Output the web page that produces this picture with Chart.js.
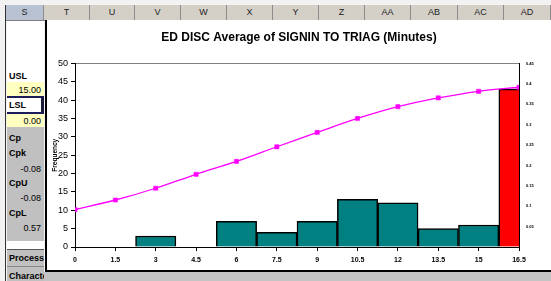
<!DOCTYPE html>
<html>
<head>
<meta charset="utf-8">
<script src="https://cdn.jsdelivr.net/npm/chart.js@4.4.1/dist/chart.umd.min.js"></script>
<style>
html,body{margin:0;padding:0;}
body{width:551px;height:281px;overflow:hidden;position:relative;background:#f2f2f2;font-family:Arial,"Liberation Sans",sans-serif;}
.hdr{position:absolute;top:5px;height:16px;background:#d4d0c8;border-right:1px solid #8c8c8c;border-bottom:1px solid #808080;box-sizing:border-box;font-size:9px;line-height:15px;text-align:center;color:#222;}
.hdr.sel{background:#b9c2d3;}
.cell{position:absolute;left:7px;width:37px;box-sizing:border-box;font-size:9px;white-space:nowrap;overflow:hidden;color:#000;}
.lab{font-weight:bold;padding-left:2px;}
.num{text-align:right;padding-right:3px;}
</style>
</head>
<body>
<div style="position:absolute;left:5px;top:5px;width:1px;height:276px;background:#333;"></div>
<div class="hdr sel" style="left:6px;width:38px;">S</div>
<div class="hdr" style="left:44px;width:46px;">T</div>
<div class="hdr" style="left:90px;width:45px;">U</div>
<div class="hdr" style="left:135px;width:46px;">V</div>
<div class="hdr" style="left:181px;width:46px;">W</div>
<div class="hdr" style="left:227px;width:46px;">X</div>
<div class="hdr" style="left:273px;width:46px;">Y</div>
<div class="hdr" style="left:319px;width:46px;">Z</div>
<div class="hdr" style="left:365px;width:46px;">AA</div>
<div class="hdr" style="left:411px;width:47px;">AB</div>
<div class="hdr" style="left:458px;width:46px;">AC</div>
<div class="hdr" style="left:504px;width:47px;">AD</div>

<div class="cell" style="top:21px;height:59px;background:#fff;"></div>
<div class="cell lab" style="top:71px;height:11px;line-height:11px;background:#fff;">USL</div>
<div class="cell num" style="top:82px;height:14px;line-height:17px;background:#ffffc0;">15.00</div>
<div class="cell" style="top:96px;height:2px;background:#1c1c5c;"></div>
<div class="cell lab" style="top:98px;height:14px;line-height:14px;background:#fff;">LSL</div>
<div style="position:absolute;left:41px;top:98px;width:3px;height:14px;background:#1c1c3c;"></div>
<div class="cell" style="top:112px;height:2px;background:#1c1c5c;"></div>
<div style="position:absolute;left:40px;top:113px;width:4px;height:3px;background:#1c1c5c;"></div>
<div class="cell num" style="top:114px;height:13px;line-height:15px;background:#ffffc0;">0.00</div>
<div class="cell" style="top:127px;height:114px;background:#c0c0c0;"></div>
<div class="cell lab" style="top:131px;height:14px;line-height:14px;">Cp</div>
<div class="cell lab" style="top:146px;height:14px;line-height:14px;">Cpk</div>
<div class="cell num" style="top:162px;height:14px;line-height:14px;">-0.08</div>
<div class="cell lab" style="top:176px;height:14px;line-height:14px;">CpU</div>
<div class="cell num" style="top:191px;height:14px;line-height:14px;">-0.08</div>
<div class="cell lab" style="top:206px;height:14px;line-height:14px;">CpL</div>
<div class="cell num" style="top:221px;height:14px;line-height:14px;">0.57</div>
<div class="cell" style="top:241px;height:8px;background:#fff;"></div>
<div class="cell" style="top:249px;height:1px;background:#555;"></div>
<div class="cell lab" style="top:250px;height:16px;line-height:16px;background:#c0c0c0;">Process</div>
<div class="cell lab" style="top:266px;height:1px;background:#888;"></div>
<div class="cell lab" style="top:267px;height:14px;line-height:18px;background:#c0c0c0;">Characteristics</div>

<div style="position:absolute;left:44px;top:272px;width:507px;height:9px;background:#c4c4c4;"></div>
<div style="position:absolute;left:45px;top:20px;width:520px;height:252px;box-sizing:border-box;border-left:2px solid #000;border-bottom:2px solid #000;background:#fff;"></div>
<div style="position:absolute;left:47px;top:20px;width:504px;height:250px;">
  <canvas id="c" width="504" height="250"></canvas>
</div>

<script>
// ---- data ----
const binCenters   = [0, 1.5, 3, 4.5, 6, 7.5, 9, 10.5, 12, 13.5, 15, 16.5];
const xTickLabels  = ['0','1.5','3','4.5','6','7.5','9','10.5','12','13.5','15','16.5'];
const frequency    = [0, 0, 3, 0, 7, 4, 7, 13, 12, 5, 6, 43];
const fitCurve     = [10.2, 12.8, 16.0, 19.8, 23.3, 27.3, 31.2, 35.0, 38.2, 40.6, 42.4, 43.5];
const yTickValues  = [0, 5, 10, 15, 20, 25, 30, 35, 40, 45, 50];
const yTickLabels  = ['0','5','10','15','20','25','30','35','40','45','50'];
const y2TickValues = [0, 0.05, 0.1, 0.15, 0.2, 0.25, 0.3, 0.35, 0.4, 0.45];
const y2TickLabels = ['', '0.05', '0.1', '0.15', '0.2', '0.25', '0.3', '0.35', '0.4', '0.45'];
const chartTitle   = 'ED DISC Average of SIGNIN TO TRIAG (Minutes)';
const yAxisTitle   = 'Frequency';

const TEAL = '#008080', RED = '#ff0000', MAGENTA = '#ff00ff';
const FONT = 'Arial, "Liberation Sans", sans-serif';

new Chart(document.getElementById('c'), {
  type: 'bar',
  data: {
    datasets: [
      {
        type: 'line',
        order: 0,
        data: binCenters.map((x, i) => ({x: x, y: fitCurve[i]})),
        borderColor: MAGENTA,
        backgroundColor: MAGENTA,
        borderWidth: 1.3,
        tension: 0.3,
        pointStyle: 'rect',
        pointRadius: 3,
        pointBorderWidth: 0.5,
        pointBackgroundColor: MAGENTA,
        pointBorderColor: MAGENTA,
        yAxisID: 'y'
      },
      {
        type: 'bar',
        order: 1,
        data: binCenters.map((x, i) => ({x: x, y: frequency[i]})),
        backgroundColor: ctx => ctx.dataIndex === frequency.length - 1 ? RED : TEAL,
        borderColor: '#000',
        borderWidth: 1.5,
        barPercentage: 1,
        categoryPercentage: 1,
        clip: {left: 0, right: 0, top: false, bottom: false},
        yAxisID: 'y'
      }
    ]
  },
  options: {
    responsive: false,
    animation: false,
    events: [],
    layout: {padding: 0},
    plugins: {
      legend: {display: false},
      tooltip: {enabled: false},
      title: {
        display: true,
        text: chartTitle,
        color: '#000',
        font: {family: FONT, size: 12, weight: 'bold', lineHeight: 1.2},
        padding: {top: 10, bottom: 19}
      }
    },
    scales: {
      x: {
        type: 'linear',
        position: 'bottom',
        min: 0,
        max: 16.5,
        offset: false,
        afterBuildTicks: s => { s.ticks = binCenters.map(v => ({value: v})); },
        afterFit: s => { s.height = 23; },
        grid: {offset: false, drawOnChartArea: false, drawTicks: true, tickLength: 4, tickColor: '#000'},
        border: {display: true, color: '#000', width: 1},
        ticks: {
          autoSkip: false, maxRotation: 0, padding: 5, color: '#000',
          font: {family: FONT, size: 7, weight: 'bold'},
          callback: (v, i) => xTickLabels[i]
        }
      },
      y: {
        type: 'linear',
        position: 'left',
        min: 0,
        max: 50,
        afterBuildTicks: s => { s.ticks = yTickValues.map(v => ({value: v})); },
        afterFit: s => { s.width = 28; },
        grid: {
          drawOnChartArea: true, drawTicks: true, tickLength: 4, tickColor: '#000',
          color: c => (c.tick && c.tick.value === 50) ? '#808080' : 'rgba(0,0,0,0)'
        },
        border: {display: true, color: '#000', width: 1},
        title: {
          display: true, text: yAxisTitle, color: '#000',
          font: {family: FONT, size: 6.5, weight: 'bold', lineHeight: 1.2},
          padding: {top: 4.6, bottom: 0}
        },
        ticks: {
          padding: 3, color: '#000',
          font: {family: FONT, size: 9},
          callback: (v, i) => yTickLabels[i]
        }
      },
      y2: {
        type: 'linear',
        position: 'right',
        min: 0,
        max: 0.45,
        afterBuildTicks: s => { s.ticks = y2TickValues.map(v => ({value: v})); },
        afterFit: s => { s.width = 32; },
        grid: {drawOnChartArea: false, drawTicks: false},
        border: {display: true, color: '#000', width: 1},
        ticks: {
          padding: 7, color: '#000',
          font: {family: FONT, size: 4, weight: 'bold'},
          callback: (v, i) => y2TickLabels[i]
        }
      }
    }
  }
});
</script>
</body>
</html>
